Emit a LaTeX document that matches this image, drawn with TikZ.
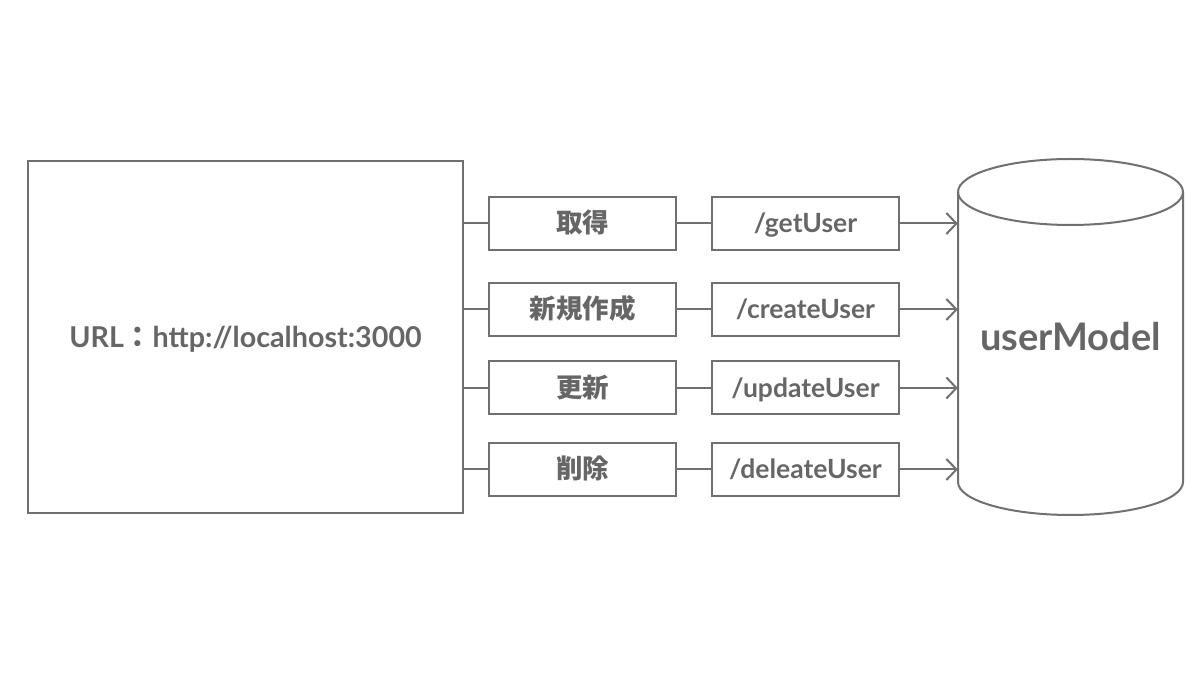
\documentclass[tikz,border=0pt]{standalone}
\usepackage{fontspec}
\setmainfont{Lato}
\newfontfamily\jp{Noto Sans CJK JP}
\usetikzlibrary{arrows.meta}
\definecolor{ln}{HTML}{707070}
\definecolor{tx}{HTML}{666666}
\tikzset{
  box/.style={draw=ln, line width=2pt, minimum width=187pt, minimum height=53pt, inner sep=0pt, text=tx,
    text height=19pt, text depth=0pt, font=\fontsize{26.5}{30}\selectfont\bfseries},
  conn/.style={draw=ln, line width=2pt},
  arr/.style={draw=ln, line width=2pt, -{Straight Barb[length=10pt, width=21pt, line width=2pt]}},
}
\begin{document}
\begin{tikzpicture}[x=1pt,y=1pt]
\useasboundingbox[fill=white] (0,0) rectangle (1200,675);
% big box
\node[draw=ln, line width=2pt, minimum width=435pt, minimum height=352pt, inner sep=0pt, text=tx,
      text height=20.5pt, text depth=0pt,
      font=\fontsize{28.7}{32}\selectfont\bfseries] (url) at (245.5,338) {URL{\jp ：}http://localhost:3000};
% first column
\node[box] (a1) at (582.5,451.5) {\jp 取得};
\node[box] (a2) at (582.5,365.5) {\jp 新規作成};
\node[box] (a3) at (582.5,287) {\jp 更新};
\node[box] (a4) at (582.5,205.5) {\jp 削除};
% second column
\node[box] (b1) at (805.5,451.5) {/getUser};
\node[box] (b2) at (805.5,365.5) {/createUser};
\node[box] (b3) at (805.5,287) {/updateUser};
\node[box] (b4) at (805.5,205.5) {/deleateUser};
% cylinder
\node[minimum width=225pt, minimum height=356pt, inner sep=0pt, text=tx,
      font=\fontsize{38}{44}\selectfont\bfseries] (db) at (1070.5,338) {userModel};
\draw[ln, line width=2pt] (1070.5,483) ellipse (112.5 and 33);
\draw[ln, line width=2pt] (958,483) -- (958,193) arc (180:360:112.5 and 33) -- (1183,483);
% connectors
\foreach \i in {1,2,3,4}{
  \draw[conn] (a\i.west -| url.east) -- (a\i.west);
  \draw[conn] (a\i.east) -- (b\i.west);
  \draw[arr] (b\i.east) -- (b\i.east -| db.west);
}
\end{tikzpicture}
\end{document}
